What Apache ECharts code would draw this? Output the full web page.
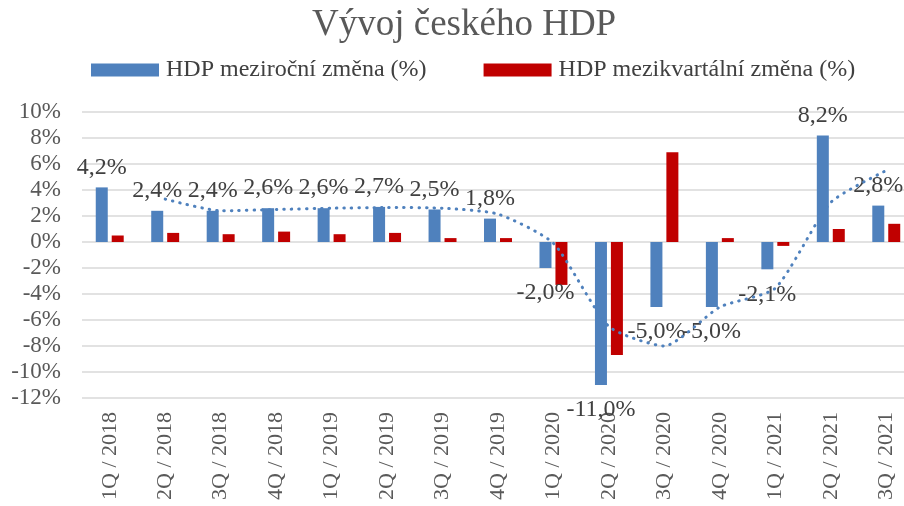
<!DOCTYPE html>
<html>
<head>
<meta charset="utf-8">
<script src="https://cdn.jsdelivr.net/npm/echarts@6/dist/echarts.min.js"></script>
<style>
  html, body { margin: 0; padding: 0; background: #fff; }
  #chart { width: 904px; height: 506px; }
</style>
</head>
<body>
<div id="chart"></div>
<script>
  var kvartaly = ['1Q / 2018', '2Q / 2018', '3Q / 2018', '4Q / 2018', '1Q / 2019', '2Q / 2019',
    '3Q / 2019', '4Q / 2019', '1Q / 2020', '2Q / 2020', '3Q / 2020', '4Q / 2020',
    '1Q / 2021', '2Q / 2021', '3Q / 2021'];
  // HDP meziroční změna (%)
  var mezirocni = [4.2, 2.4, 2.4, 2.6, 2.6, 2.7, 2.5, 1.8, -2.0, -11.0, -5.0, -5.0, -2.1, 8.2, 2.8];
  // HDP mezikvartální změna (%)
  var mezikvartalni = [0.5, 0.7, 0.6, 0.8, 0.6, 0.7, 0.3, 0.3, -3.3, -8.7, 6.9, 0.3, -0.3, 1.0, 1.4];
  // klouzavý průměr (tečkovaná spojnice trendu)
  var trend = [null, 3.3, 2.4, 2.5, 2.6, 2.65, 2.6, 2.15, -0.1, -6.5, -8.0, -5.0, -3.55, 3.05, 5.5];

  var pismo = 'Liberation Serif';

  function procenta(v) {
    return v.toFixed(1).replace('.', ',') + '%';
  }

  var chart = echarts.init(document.getElementById('chart'));

  var option = {
    animation: false,
    textStyle: { fontFamily: pismo },
    title: {
      text: 'Vývoj českého HDP',
      left: 312,
      top: 7,
      padding: 0,
      textStyle: { fontFamily: pismo, fontSize: 37, fontWeight: 'normal', color: '#595959' }
    },
    legend: {
      data: ['HDP meziroční změna (%)', 'HDP mezikvartální změna (%)'],
      left: 91,
      top: 58,
      padding: 0,
      itemWidth: 68,
      itemHeight: 13,
      itemGap: 57,
      icon: 'rect',
      textStyle: { fontFamily: pismo, fontSize: 24, color: '#404040', padding: [0, 0, 0, 2] }
    },
    grid: {
      left: 82,
      top: 112,
      width: 832,
      height: 286,
      outerBoundsMode: 'none'
    },
    xAxis: {
      type: 'category',
      data: kvartaly,
      axisLine: { show: false, onZero: false },
      axisTick: { show: false },
      axisLabel: {
        rotate: 90,
        margin: 14,
        interval: 0,
        fontFamily: pismo,
        fontSize: 22,
        color: '#595959'
      }
    },
    yAxis: {
      type: 'value',
      min: -12,
      max: 10,
      interval: 2,
      axisLine: { show: false },
      axisTick: { show: false },
      axisLabel: {
        margin: 21,
        formatter: '{value}%',
        fontFamily: pismo,
        fontSize: 23,
        color: '#595959'
      },
      splitLine: { lineStyle: { color: '#d9d9d9', width: 1.5 } }
    },
    series: [
      {
        name: 'HDP meziroční změna (%)',
        type: 'bar',
        barWidth: 12,
        barGap: '33%',
        itemStyle: { color: '#4f81bd' },
        data: mezirocni.map(function (v) {
          return {
            value: v,
            label: v < 0 ? { position: 'bottom', distance: 13 } : { position: 'top', distance: 8 }
          };
        }),
        label: {
          show: true,
          formatter: function (p) { return procenta(p.value); },
          fontFamily: pismo,
          fontSize: 24,
          color: '#404040'
        }
      },
      {
        name: 'HDP mezikvartální změna (%)',
        type: 'bar',
        barWidth: 12,
        barGap: '33%',
        itemStyle: { color: '#c00000' },
        data: mezikvartalni
      },
      {
        name: 'trend',
        type: 'line',
        data: trend,
        smooth: 0.2,
        showSymbol: false,
        z: 5,
        lineStyle: { color: '#4f81bd', width: 3, type: [0.5, 7], cap: 'round' }
      }
    ]
  };

  chart.setOption(option);
</script>
</body>
</html>
